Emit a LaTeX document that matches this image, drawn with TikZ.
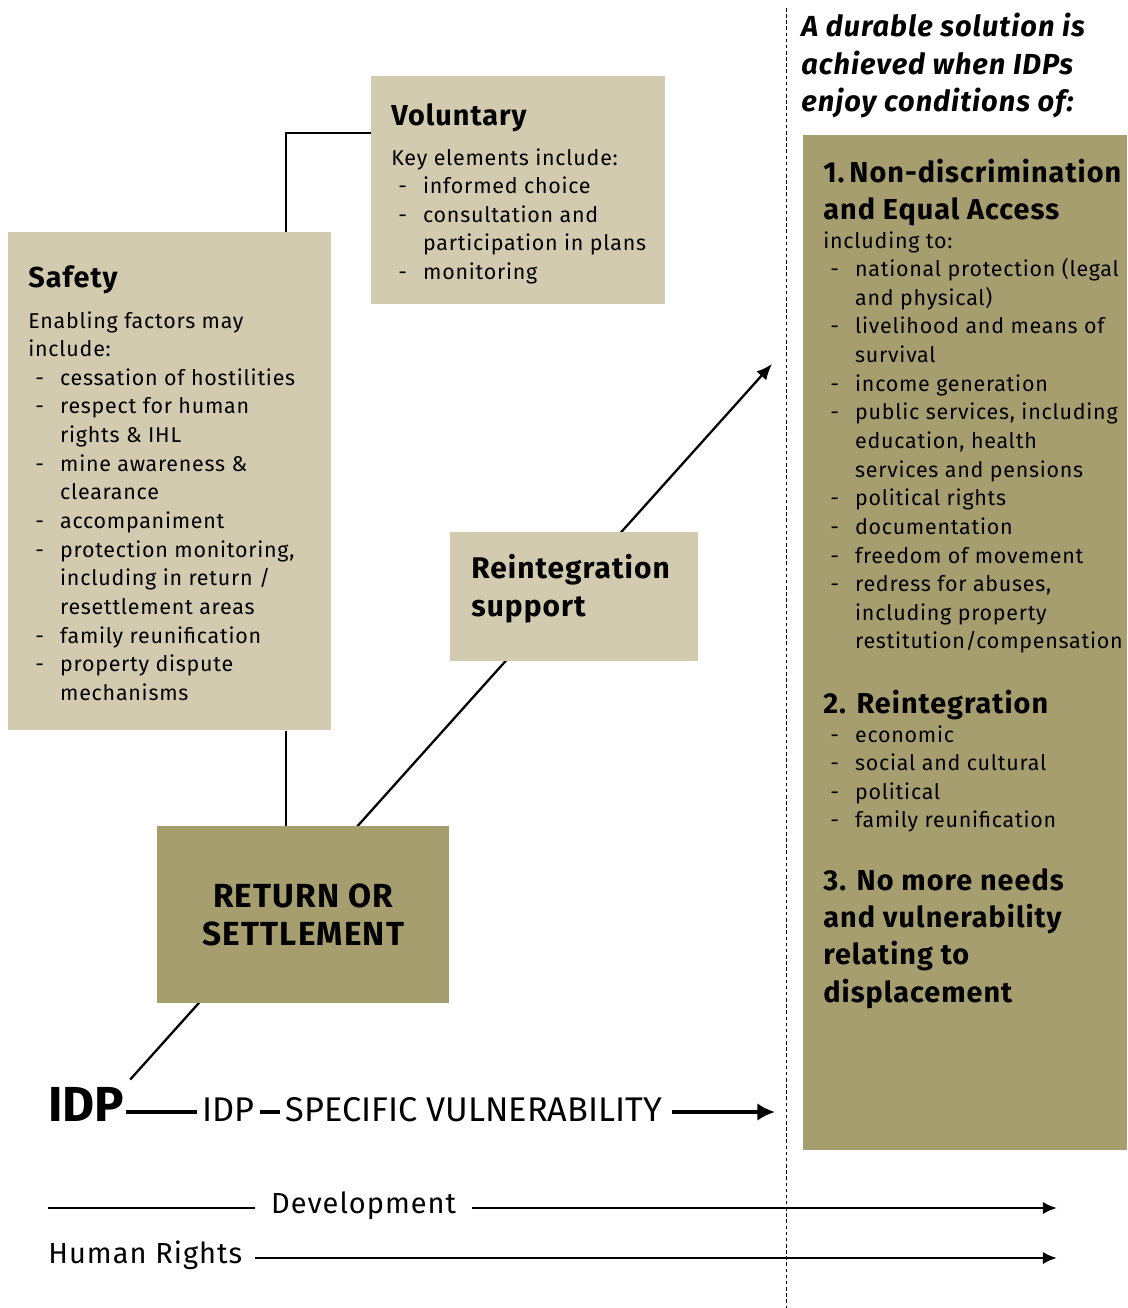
\documentclass[tikz,border=0pt]{standalone}
\usepackage{fontspec}
\setmainfont{Fira Sans}[LetterSpace=3.5]
\newfontfamily\linefont{Fira Sans}
\usetikzlibrary{arrows.meta,positioning}
\definecolor{boxlight}{RGB}{211,203,176}
\definecolor{boxdark}{RGB}{167,158,112}
\newcommand{\bodyfont}{\fontsize{12.2}{16.3}\selectfont}
\newcommand{\headfont}{\bfseries\fontsize{16.4}{21.3}\selectfont}
\newcommand{\txtlines}[1]{\begin{tabular}[t]{@{}l@{}}#1\end{tabular}}
\newcommand{\dl}{\makebox[18.1pt][l]{\hspace{4pt}-}}
\newcommand{\dc}{\hspace*{18.1pt}}

\begin{document}
\begin{tikzpicture}[x=0.02cm,y=-0.02cm,
            lightbox/.style={fill=boxlight,anchor=north west,inner sep=0},
            darkbox/.style={fill=boxdark,anchor=north west,inner sep=0},
            headtxt/.style={font=\headfont,anchor=base west,inner sep=0},
            bodytxt/.style={font=\bodyfont,anchor=base west,inner sep=0},
            linetxt/.style={anchor=base west,inner ysep=0,inner xsep=3pt},
            thinline/.style={line width=0.8pt},
            thickline/.style={line width=2.2pt},
            axisline/.style={line width=1.5pt}
            ]
            \useasboundingbox (0,0) rectangle (1127,1308);
            % the way up, drawn first so the boxes sit on it
            \node[linetxt,inner xsep=1pt,font=\linefont\bfseries\fontsize{28}{28}\selectfont] (idp) at (46,1121) {IDP};
            \coordinate (wayup) at (772,364);
            \draw[line width=1.3pt,-{Latex[length=9pt,width=7.5pt]}] ([shift={(4,-7)}]idp.north east) -- (wayup);
            % boxes
            \node[lightbox,minimum width=6.46cm,minimum height=9.96cm] (safety) at (8,232) {};
            \node[lightbox,minimum width=5.88cm,minimum height=4.56cm] (voluntary) at (371,76) {};
            \node[lightbox,minimum width=4.96cm,minimum height=2.58cm] (reint) at (450,532) {};
            \node[darkbox,minimum width=5.84cm,minimum height=3.54cm] (settle) at (157,826) {};
            \node[darkbox,minimum width=6.48cm,minimum height=20.3cm] (durable) at (803,135) {};
            % links between boxes
            \draw[thinline] ([shift={(0,57)}]voluntary.north west) -| ([shift={(278,0)}]safety.north west);
            \draw[thinline] ([shift={(278,0)}]safety.south west) -- ([shift={(129,0)}]settle.north west);
            % safety
            \node[headtxt] (safetyhead) at ([shift={(20,55)}]safety.north west) {Safety};
            \node[bodytxt] (safetybody) at ([shift={(20,96)}]safety.north west) {\txtlines{%
              Enabling factors may\\
              include:\\
              \dl cessation of hostilities\\
              \dl respect for human\\
              \dc rights \& IHL\\
              \dl mine awareness \&\\
              \dc clearance\\
              \dl accompaniment\\
              \dl protection monitoring,\\
              \dc including in return /\\
              \dc resettlement areas\\
              \dl family reunification\\
              \dl property dispute\\
              \dc mechanisms}};
            % voluntary
            \node[headtxt] (volhead) at ([shift={(20,50)}]voluntary.north west) {Voluntary};
            \node[bodytxt] (volbody) at ([shift={(20,89)}]voluntary.north west) {\txtlines{%
              Key elements include:\\
              \dl informed choice\\
              \dl consultation and\\
              \dc participation in plans\\
              \dl monitoring}};
            % reintegration support
            \node[headtxt,font=\bfseries\fontsize{17}{22}\selectfont] (reinthead) at ([shift={(21,46)}]reint.north west) {\txtlines{Reintegration\\support}};
            % return or settlement
            \node[align=center,font=\bfseries\fontsize{19}{22}\selectfont] (settlehead) at (settle.center) {RETURN OR\\SETTLEMENT};
            % durable solution
            \node[headtxt,font=\bfseries\itshape\fontsize{16.5}{21.3}\selectfont] (durhead) at (801,37) {\txtlines{A durable solution is\\achieved when IDPs\\enjoy conditions of:}};
            \node[headtxt] (condone) at ([shift={(20,47)}]durable.north west) {\txtlines{1.\,Non-discrimination\\and Equal Access}};
            \node[bodytxt] (condonebody) at ([shift={(20,113)}]durable.north west) {\txtlines{%
              including to:\\
              \dl national protection (legal\\
              \dc and physical)\\
              \dl livelihood and means of\\
              \dc survival\\
              \dl income generation\\
              \dl public services, including\\
              \dc education, health\\
              \dc services and pensions\\
              \dl political rights\\
              \dl documentation\\
              \dl freedom of movement\\
              \dl redress for abuses,\\
              \dc including property\\
              \dc restitution/compensation}};
            \node[headtxt] (condtwo) at ([shift={(20,578)}]durable.north west) {2. Reintegration};
            \node[bodytxt] (condtwobody) at ([shift={(20,607)}]durable.north west) {\txtlines{%
              \dl economic\\
              \dl social and cultural\\
              \dl political\\
              \dl family reunification}};
            \node[headtxt] (condthree) at ([shift={(20,755)}]durable.north west) {\txtlines{%
              3. No more needs\\
              and vulnerability\\
              relating to\\
              displacement}};
            % idp specific vulnerability
            \coordinate (vulend) at (775,1112);
            \node[linetxt,font=\linefont\fontsize{19.5}{20}\selectfont] (idpsmall) at (197,1121) {IDP};
            \node[linetxt,font=\linefont\fontsize{19.5}{20}\selectfont] (specvul) at (280,1121) {SPECIFIC VULNERABILITY};
            \draw[thickline] (idp.east |- vulend) -- (idpsmall.west |- vulend);
            \draw[thickline] (idpsmall.east |- vulend) -- (specvul.west |- vulend);
            \draw[thickline,-{Latex[length=10pt,width=10pt]}] ([shift={(4,0)}]specvul.east |- vulend) -- (vulend);
            % separator
            \coordinate (septop) at (786,8);
            \coordinate (sepbot) at (786,1308);
            \draw[line width=0.5pt,dash pattern=on 2pt off 1.5pt] (septop) -- (sepbot);
            % development and human rights
            \coordinate (devstart) at (48,1208);
            \coordinate (devend) at (1057,1208);
            \coordinate (humend) at (1057,1258);
            \node[linetxt,inner xsep=9pt,font=\fontsize{16.5}{18}\selectfont] (devel) at (255,1213) {Development};
            \node[linetxt,inner xsep=0pt,font=\fontsize{16.5}{18}\selectfont] (human) at (48,1263) {Human Rights};
            \draw[axisline] (devstart) -- (devel.west |- devstart);
            \draw[axisline,-{Latex[length=8pt,width=7pt]}] (devel.east |- devstart) -- (devend);
            \draw[axisline,-{Latex[length=8pt,width=7pt]}] ([shift={(12,0)}]human.east |- humend) -- (humend);
        \end{tikzpicture}
\end{document}
